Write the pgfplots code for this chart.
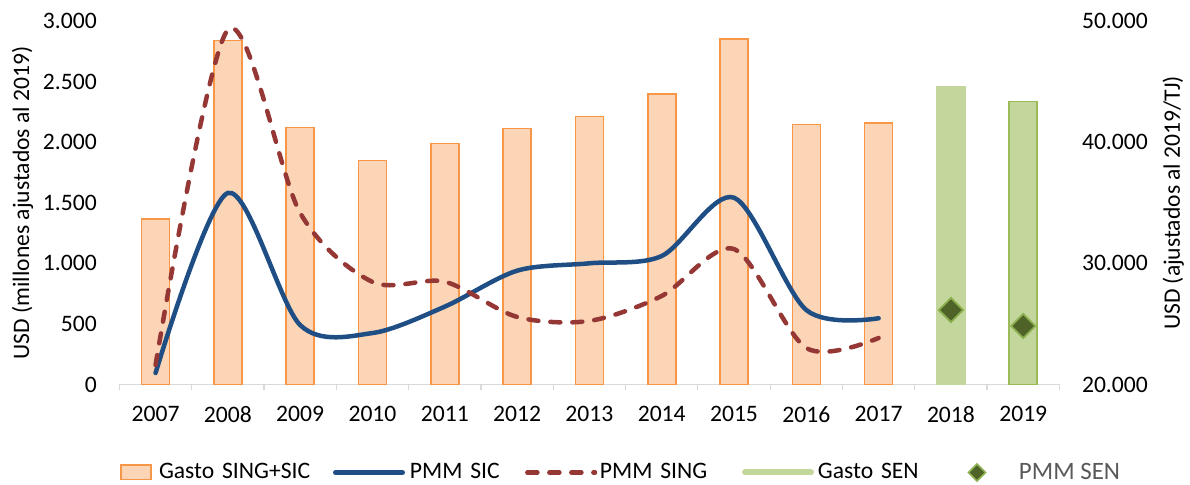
\documentclass[border=0pt]{standalone}
\usepackage{fontspec}
\setmainfont{Carlito}
\usepackage{pgfplots}
\pgfplotsset{compat=1.18}
\definecolor{ofill}{HTML}{FBD5B5}
\definecolor{oedge}{HTML}{F79646}
\definecolor{gfill}{HTML}{C3D69B}
\definecolor{gedge}{HTML}{9BBB59}
\definecolor{sic}{HTML}{1F4E84}
\definecolor{sing}{HTML}{953735}
\definecolor{sen}{HTML}{4F6228}
\definecolor{senedge}{HTML}{8DB050}
\definecolor{axgray}{HTML}{D9D9D9}
\definecolor{legray}{HTML}{595959}
\begin{document}
\begin{tikzpicture}[font=\fontsize{11.8}{14}\selectfont]
\useasboundingbox (-59.7pt,-50.25pt) rectangle (535.3pt,192.25pt);
\pgfplotsset{
  base/.style={width=470pt,height=181.6pt,scale only axis,at={(0,0)},anchor=south west,
    xmin=-0.5,xmax=12.5, scaled y ticks=false,
    /pgf/number format/.cd,1000 sep={.},assume math mode=true,/pgfplots/.cd,
    tick label style={font=\fontsize{11.8}{14}\selectfont},
    label style={font=\fontsize{11.8}{14}\selectfont},
  }
}
\begin{axis}[base,
  axis x line*=bottom, axis y line*=left,
  x axis line style={draw=axgray, line width=0.6pt, -},
  y axis line style={draw=none},
  ymin=0,ymax=3000, ytick={0,500,...,3000},
  ytick style={draw=none},
  xtick={0,...,12},
  xticklabels={2007,2008,2009,2010,2011,2012,2013,2014,2015,2016,2017,2018,2019},
  minor xtick={-0.5,0.5,...,12.5},
  tick align=outside, major tick length=0pt, minor tick length=3pt,
  minor x tick style={draw=axgray, line width=0.6pt},
  major x tick style={draw=none},
  xticklabel style={yshift=-7.3pt},
  yticklabel style={xshift=-7.8pt},
  ylabel={USD (millones ajustados al 2019)},
  every axis y label/.style={at={(axis description cs:-0.1031,0.5)},rotate=90,anchor=center},
]
\addplot[ybar, bar width=14pt, bar shift=0pt, fill=ofill, draw=oedge, line width=0.8pt, forget plot]
 coordinates {(0,1367) (1,2840) (2,2124) (3,1849) (4,1992) (5,2113) (6,2212) (7,2400) (8,2854) (9,2149) (10,2158)};
\addplot[ybar, bar width=14pt, bar shift=0pt, fill=gfill, draw=gfill, line width=0.8pt, forget plot]
 coordinates {(11,2455)};
\addplot[ybar, bar width=14pt, bar shift=0pt, fill=gfill, draw=gedge, line width=0.8pt, forget plot]
 coordinates {(12,2336)};
\end{axis}
\begin{axis}[base,
  axis x line=none, axis y line*=right,
  y axis line style={draw=none}, ytick style={draw=none},
  ymin=20000, ymax=50000, ytick={20000,30000,40000,50000},
  yticklabel style={xshift=7.8pt},
  ylabel={USD (ajustados al 2019/TJ)},
  every axis y label/.style={at={(axis description cs:1.121,0.5)},rotate=90,anchor=center},
  clip=false,
  legend columns=5,
  legend style={at={(axis description cs:0.00064,-0.2423)}, anchor=west, draw=none, fill=none,
    inner sep=0pt, outer sep=0pt, column sep=0pt, nodes={inner sep=0pt}},
]
\addplot[sic, line width=2.25pt, smooth, line cap=round, forget plot]
 coordinates {(0,20950) (1,35820) (2,24910) (3,24250) (4,26430) (5,29400) (6,30010) (7,30610) (8,35430) (9,26150) (10,25470)};
\addplot[sing, line width=2.25pt, smooth, line cap=round, dash pattern=on 5pt off 6pt, forget plot]
 coordinates {(0,21610) (1,49300) (2,34170) (3,28470) (4,28490) (5,25580) (6,25250) (7,27310) (8,31190) (9,23010) (10,23840)};
\addplot[only marks, mark=square*, mark size=4.3pt, mark options={rotate=45, fill=sen, draw=senedge, line width=0.9pt}, forget plot]
 coordinates {(11,26150) (12,24830)};
\addlegendimage{legend image code/.code={\path[draw=none,fill=none] (0pt,-5pt) rectangle (19.5pt,5pt);
  \draw[fill=ofill,draw=oedge,line width=0.9pt] (0.45pt,-3.55pt) rectangle (15.55pt,3.55pt);}}
\addlegendentry[text width=87pt, align=left]{Gasto SING+SIC}
\addlegendimage{legend image code/.code={\path[draw=none,fill=none] (0pt,-5pt) rectangle (38.5pt,5pt);
  \draw[sic,line width=2.5pt,line cap=round] (1.25pt,0pt) -- (34.75pt,0pt);}}
\addlegendentry[text width=57.5pt, align=left]{PMM SIC}
\addlegendimage{legend image code/.code={\path[draw=none,fill=none] (0pt,-5pt) rectangle (37.5pt,5pt);
  \draw[sing,line width=2.25pt,line cap=round,dash pattern=on 5pt off 6pt] (1.2pt,0pt) -- (35pt,0pt);}}
\addlegendentry[text width=71pt, align=left]{PMM SING}
\addlegendimage{legend image code/.code={\path[draw=none,fill=none] (0pt,-5pt) rectangle (38pt,5pt);
  \draw[gfill,line width=3pt,line cap=round] (1.5pt,0pt) -- (34.5pt,0pt);}}
\addlegendentry[text width=71.5pt, align=left]{Gasto SEN}
\addlegendimage{legend image code/.code={\path[draw=none,fill=none] (0pt,-5pt) rectangle (29pt,5pt);
  \draw[fill=sen,draw=senedge,line width=0.8pt] (8pt,-4.3pt) -- (12.3pt,0pt) -- (8pt,4.3pt) -- (3.7pt,0pt) -- cycle;}}
\addlegendentry[text=legray, font=\fontsize{12.5}{14}\selectfont]{PMM SEN}
\end{axis}
\end{tikzpicture}
\end{document}
